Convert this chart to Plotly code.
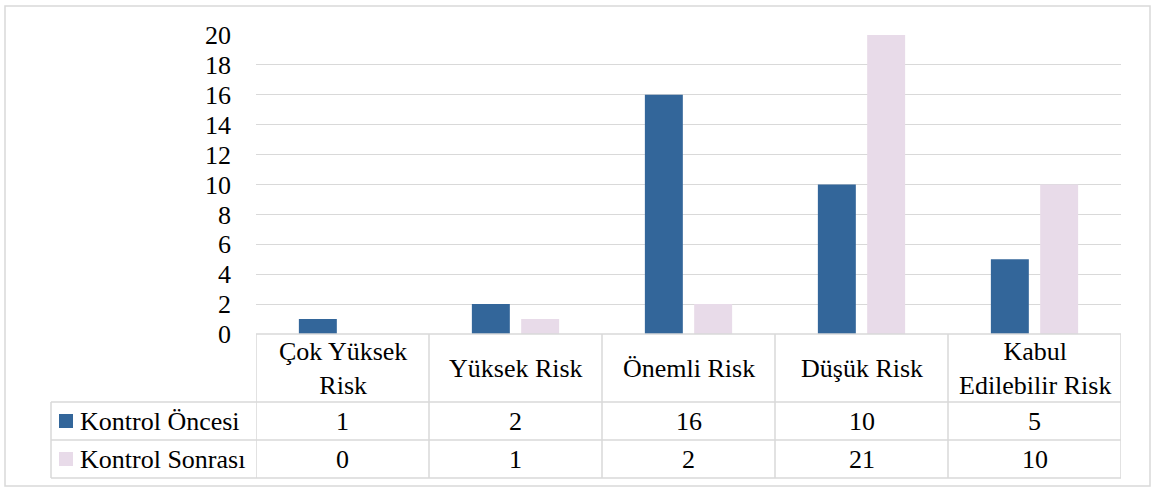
import plotly.graph_objects as go

categories = ["Çok Yüksek<br>Risk", "Yüksek Risk", "Önemli Risk", "Düşük Risk", "Kabul<br>Edilebilir Risk"]
series_names = ["Kontrol Öncesi", "Kontrol Sonrası"]
kontrol_oncesi = [1, 2, 16, 10, 5]
kontrol_sonrasi = [0, 1, 2, 21, 10]
y_ticks = [0, 2, 4, 6, 8, 10, 12, 14, 16, 18, 20]

colors = ["#33669A", "#E8DBE9"]
grid = "#D9D9D9"
SERIF = "Liberation Serif"

W, H = 1154, 489
ml, mr, mt, mb = 256, 33, 35, 155
plot_w = W - ml - mr
plot_h = H - mt - mb


def py(px):
    """pixel row -> paper y"""
    return (H - mb - px) / plot_h


def pxx(px):
    """pixel column -> paper x"""
    return (px - ml) / plot_w


def tfont():
    return dict(family=SERIF, size=26, color="#000000")


xs = list(range(len(categories)))
fig = go.Figure()
for name, vals, col in zip(series_names, [kontrol_oncesi, kontrol_sonrasi], colors):
    fig.add_trace(go.Bar(x=xs, y=vals, name=name, marker=dict(color=col, line=dict(width=0)),
                         showlegend=False, hoverinfo="y+name"))

# data table grid
row_tops = [H - mb, 402, 440, 478]
left_x = 51
line_style = dict(color=grid, width=1.5)
fig.add_shape(type="line", xref="x", yref="paper", x0=-0.5, x1=len(categories) - 0.5,
              y0=py(row_tops[0]), y1=py(row_tops[0]), line=line_style)
for r in row_tops[1:]:
    fig.add_shape(type="line", xref="paper", yref="paper", x0=pxx(left_x), x1=1,
                  y0=py(r), y1=py(r), line=line_style)
for i in range(len(categories) + 1):
    fig.add_shape(type="line", xref="x", yref="paper", x0=i - 0.5, x1=i - 0.5,
                  y0=py(row_tops[0]), y1=py(row_tops[3]), line=line_style)
fig.add_shape(type="line", xref="paper", yref="paper", x0=pxx(left_x), x1=pxx(left_x),
              y0=py(row_tops[1]), y1=py(row_tops[3]), line=line_style)

# outer chart border
fig.add_shape(type="rect", xref="paper", yref="paper", x0=pxx(5), x1=pxx(1150),
              y0=py(486), y1=py(6), line=dict(color=grid, width=1.5), layer="below")

# header row: category names
for i, c in enumerate(categories):
    fig.add_annotation(x=i, y=py((row_tops[0] + row_tops[1]) / 2), xref="x", yref="paper",
                       text=c, showarrow=False, font=tfont(), xanchor="center", yanchor="middle")
# value rows with legend keys
for r, (name, vals, col) in enumerate(zip(series_names, [kontrol_oncesi, kontrol_sonrasi], colors)):
    yc = (row_tops[r + 1] + row_tops[r + 2]) / 2
    for i, v in enumerate(vals):
        fig.add_annotation(x=i, y=py(yc), xref="x", yref="paper", text=str(v), showarrow=False,
                           font=tfont(), xanchor="center", yanchor="middle")
    fig.add_shape(type="rect", xref="paper", yref="paper", x0=pxx(59), x1=pxx(73),
                  y0=py(yc + 7), y1=py(yc - 7), fillcolor=col, line=dict(width=0))
    fig.add_annotation(x=pxx(78), y=py(yc), xref="paper", yref="paper", text=name,
                       showarrow=False, font=tfont(), xanchor="left", yanchor="middle")

fig.update_layout(
    width=W, height=H,
    margin=dict(l=ml, r=mr, t=mt, b=mb, pad=0),
    paper_bgcolor="white", plot_bgcolor="white",
    barmode="group", bargap=0.43, bargroupgap=0.23,
    xaxis=dict(range=[-0.5, len(categories) - 0.5], showticklabels=False, showgrid=False,
               zeroline=False, showline=False, fixedrange=True),
    yaxis=dict(range=[0, 20], tickvals=y_ticks, showgrid=True, gridcolor=grid, gridwidth=1,
               zeroline=False, showline=False, ticks="", ticklabelstandoff=24,
               tickfont=tfont(), fixedrange=True),
)

fig.write_html("out.html")
